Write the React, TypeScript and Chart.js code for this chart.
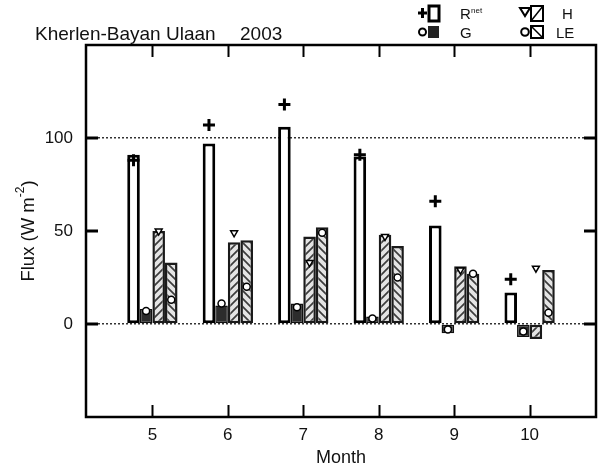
import React, { useEffect, useRef } from 'react';
import { Chart, registerables } from 'chart.js';

Chart.register(...registerables);

const months = [5, 6, 7, 8, 9, 10];
const rnetBar = [91, 97, 106, 90, 53, 17];
const gBar = [8, 10, 11, 4, -5, -7];
const hBar = [50, 44, 47, 48, 31, -8];
const leBar = [33, 45, 52, 42, 27, 29];
const rnetMark = [88, 107, 118, 91, 66, 24];
const gMark = [7, 11, 9, 3, -3, -4];
const hMark = [50, 49, 33, 47, 29, 30];
const leMark = [13, 20, 49, 25, 27, 6];
const yTicks = [0, 50, 100];
const yDotted = [0, 100];
const chartSite = 'Kherlen-Bayan Ulaan';
const chartYear = '2003';
const xTitle = 'Month';
const yTitleMain = 'Flux (W m';
const yTitleSup = '-2';
const yTitleEnd = ')';
const legendRows = [
  { label: 'R', sub: 'net' },
  { label: 'G', sub: '' },
  { label: 'H', sub: '' },
  { label: 'LE', sub: '' },
];

const FONT = "'Liberation Sans', Arial, Helvetica, sans-serif";
const BAR_FRAC = 0.1667;

function makeHatch(ctx: CanvasRenderingContext2D, dir: number) {
  const c = document.createElement('canvas');
  c.width = 8;
  c.height = 8;
  const g = c.getContext('2d')!;
  g.fillStyle = '#e4e4e4';
  g.fillRect(0, 0, 8, 8);
  g.strokeStyle = '#3c3c3c';
  g.lineWidth = 1.7;
  g.beginPath();
  if (dir > 0) {
    g.moveTo(-1, 9); g.lineTo(9, -1);
    g.moveTo(-3, 3); g.lineTo(3, -3);
    g.moveTo(5, 11); g.lineTo(11, 5);
  } else {
    g.moveTo(-1, -1); g.lineTo(9, 9);
    g.moveTo(-3, 5); g.lineTo(3, 11);
    g.moveTo(5, -3); g.lineTo(11, 3);
  }
  g.stroke();
  return ctx.createPattern(c, 'repeat') as CanvasPattern;
}

export default function App() {
  const ref = useRef<HTMLCanvasElement | null>(null);

  useEffect(() => {
    const canvas = ref.current!;
    const ctx0 = canvas.getContext('2d')!;
    const hPat = makeHatch(ctx0, 1);
    const lePat = makeHatch(ctx0, -1);

    const decor = {
      id: 'decor',
      afterDatasetsDraw(chart: any) {
        const { ctx, chartArea: ca, scales } = chart;
        const xs = scales.x;
        const ys = scales.y;
        ctx.save();
        ctx.strokeStyle = '#000';
        ctx.lineWidth = 2.5;
        ctx.strokeRect(ca.left, ca.top, ca.right - ca.left, ca.bottom - ca.top);
        ctx.lineWidth = 2;
        ctx.beginPath();
        months.forEach((m) => {
          const px = Math.round(xs.getPixelForValue(m)) + 0.5;
          ctx.moveTo(px, ca.bottom);
          ctx.lineTo(px, ca.bottom - 12);
          ctx.moveTo(px, ca.top);
          ctx.lineTo(px, ca.top + 12);
        });
        ctx.stroke();
        ctx.lineWidth = 3;
        ctx.beginPath();
        yTicks.forEach((v) => {
          const py = Math.round(ys.getPixelForValue(v));
          ctx.moveTo(ca.left, py);
          ctx.lineTo(ca.left + 12, py);
          ctx.moveTo(ca.right, py);
          ctx.lineTo(ca.right - 12, py);
        });
        ctx.stroke();
        ctx.restore();
      },
      afterDraw(chart: any) {
        const { ctx, chartArea: ca } = chart;
        ctx.save();
        ctx.fillStyle = '#111';
        ctx.textAlign = 'left';
        ctx.textBaseline = 'alphabetic';
        // title
        ctx.font = `19px ${FONT}`;
        ctx.fillText(chartSite, 35, 40);
        ctx.fillText(chartYear, 240, 40);
        // x title
        ctx.textAlign = 'center';
        ctx.font = `18px ${FONT}`;
        ctx.fillText(xTitle, (ca.left + ca.right) / 2, 463);
        // y title
        ctx.save();
        ctx.translate(27, (ca.top + ca.bottom) / 2);
        ctx.rotate(-Math.PI / 2);
        ctx.textAlign = 'left';
        ctx.font = `18.5px ${FONT}`;
        const w1 = ctx.measureText(yTitleMain).width;
        const w3 = ctx.measureText(yTitleEnd).width;
        ctx.font = `12px ${FONT}`;
        const w2 = ctx.measureText(yTitleSup).width;
        let x = -(w1 + w2 + w3) / 2;
        ctx.font = `18.5px ${FONT}`;
        ctx.fillText(yTitleMain, x, 7);
        x += w1;
        ctx.font = `12px ${FONT}`;
        ctx.fillText(yTitleSup, x, -3);
        x += w2;
        ctx.font = `18.5px ${FONT}`;
        ctx.fillText(yTitleEnd, x, 7);
        ctx.restore();

        // legend
        ctx.strokeStyle = '#000';
        ctx.fillStyle = '#000';
        ctx.lineWidth = 3;
        ctx.beginPath();
        ctx.moveTo(418, 13); ctx.lineTo(427, 13);
        ctx.moveTo(422.5, 8); ctx.lineTo(422.5, 18);
        ctx.stroke();
        ctx.lineWidth = 3;
        ctx.fillStyle = '#fff';
        ctx.fillRect(429, 6, 10, 15);
        ctx.strokeRect(429, 6, 10, 15);
        ctx.lineWidth = 2;
        ctx.beginPath();
        ctx.arc(422.5, 32, 3.5, 0, Math.PI * 2);
        ctx.fillStyle = '#fff';
        ctx.fill();
        ctx.stroke();
        ctx.fillStyle = '#222';
        ctx.fillRect(428, 26, 11, 12);
        ctx.lineWidth = 2;
        ctx.beginPath();
        ctx.moveTo(520, 8); ctx.lineTo(530, 8); ctx.lineTo(525, 16); ctx.closePath();
        ctx.fillStyle = '#fff';
        ctx.fill();
        ctx.stroke();
        ctx.strokeRect(531, 6, 12, 15);
        ctx.lineWidth = 1.5;
        ctx.beginPath();
        ctx.moveTo(531, 21); ctx.lineTo(543, 6);
        ctx.stroke();
        ctx.lineWidth = 2;
        ctx.beginPath();
        ctx.arc(525, 32, 3.8, 0, Math.PI * 2);
        ctx.fillStyle = '#fff';
        ctx.fill();
        ctx.stroke();
        ctx.strokeRect(531, 26, 12, 12);
        ctx.lineWidth = 1.5;
        ctx.beginPath();
        ctx.moveTo(531, 26); ctx.lineTo(543, 38);
        ctx.stroke();
        ctx.fillStyle = '#111';
        ctx.textAlign = 'left';
        ctx.font = `15px ${FONT}`;
        ctx.fillText(legendRows[0].label, 460, 19);
        ctx.font = `8px ${FONT}`;
        ctx.fillText(legendRows[0].sub, 471, 13);
        ctx.font = `15px ${FONT}`;
        ctx.fillText(legendRows[1].label, 460, 38);
        ctx.fillText(legendRows[2].label, 562, 19);
        ctx.fillText(legendRows[3].label, 556, 38);
        ctx.restore();
      },
    };

    const barBase = {
      type: 'bar' as const,
      borderSkipped: false,
      categoryPercentage: 4 * BAR_FRAC,
      barPercentage: 1,
      order: 1,
    };
    const markBase = {
      type: 'scatter' as const,
      showLine: false,
      order: 0,
      pointBorderColor: '#000',
      pointBackgroundColor: '#fff',
    };
    const pts = (vals: number[], k: number) =>
      months.map((m, i) => ({ x: m + (k - 1.5) * BAR_FRAC, y: vals[i] }));

    const chart = new Chart(canvas, {
      type: 'bar',
      data: {
        datasets: [
          { ...barBase, label: 'Rnet', data: months.map((m, i) => ({ x: m, y: rnetBar[i] })), backgroundColor: '#fff', borderColor: '#000', borderWidth: 3 },
          { ...barBase, label: 'G', data: months.map((m, i) => ({ x: m, y: gBar[i] })), backgroundColor: '#2c2c2c', borderColor: '#111', borderWidth: 1.5 },
          { ...barBase, label: 'H', data: months.map((m, i) => ({ x: m, y: hBar[i] })), backgroundColor: hPat, borderColor: '#1a1a1a', borderWidth: 2.5 },
          { ...barBase, label: 'LE', data: months.map((m, i) => ({ x: m, y: leBar[i] })), backgroundColor: lePat, borderColor: '#1a1a1a', borderWidth: 2.5 },
          { ...markBase, label: 'Rnet mark', data: pts(rnetMark, 0), pointStyle: 'cross', pointRadius: 6, pointBorderWidth: 3 },
          { ...markBase, label: 'G mark', data: pts(gMark, 1), pointStyle: 'circle', pointRadius: 3.5, pointBorderWidth: 1.5 },
          { ...markBase, label: 'H mark', data: pts(hMark, 2), pointStyle: 'triangle', rotation: 180, pointRadius: 4, pointBorderWidth: 1.5 },
          { ...markBase, label: 'LE mark', data: pts(leMark, 3), pointStyle: 'circle', pointRadius: 3.5, pointBorderWidth: 1.5 },
        ] as any,
      },
      options: {
        responsive: false,
        animation: false,
        layout: { padding: { top: 45, right: 2, left: 0, bottom: 0 } },
        plugins: {
          legend: { display: false },
          tooltip: { enabled: false },
          title: { display: false },
        },
        scales: {
          x: {
            type: 'linear',
            min: 4.12,
            max: 10.88,
            offset: false,
            afterBuildTicks: (s: any) => {
              s.ticks = months.map((v) => ({ value: v }));
            },
            afterFit: (s: any) => {
              s.height = 48;
            },
            grid: { display: false, drawTicks: false, offset: false },
            border: { display: false },
            ticks: {
              font: { family: FONT, size: 17 },
              color: '#111',
              padding: 8,
              maxRotation: 0,
              autoSkip: false,
            },
          },
          y: {
            type: 'linear',
            min: -50,
            max: 150,
            afterBuildTicks: (s: any) => {
              s.ticks = yTicks.map((v) => ({ value: v }));
            },
            afterFit: (s: any) => {
              s.width = 86;
            },
            grid: {
              drawTicks: false,
              lineWidth: 1.5,
              color: (c: any) => (c.tick && yDotted.includes(c.tick.value) ? '#333' : 'rgba(0,0,0,0)'),
            },
            border: { display: false, dash: [2, 2] },
            ticks: {
              font: { family: FONT, size: 17 },
              color: '#111',
              padding: 13,
            },
          },
        },
      } as any,
      plugins: [decor],
    });
    return () => chart.destroy();
  }, []);

  return (
    <div style={{ position: 'absolute', left: 0, top: 0, width: 605, height: 465, background: '#fff' }}>
      <canvas ref={ref} width={605} height={465} style={{ display: 'block' }} />
    </div>
  );
}
